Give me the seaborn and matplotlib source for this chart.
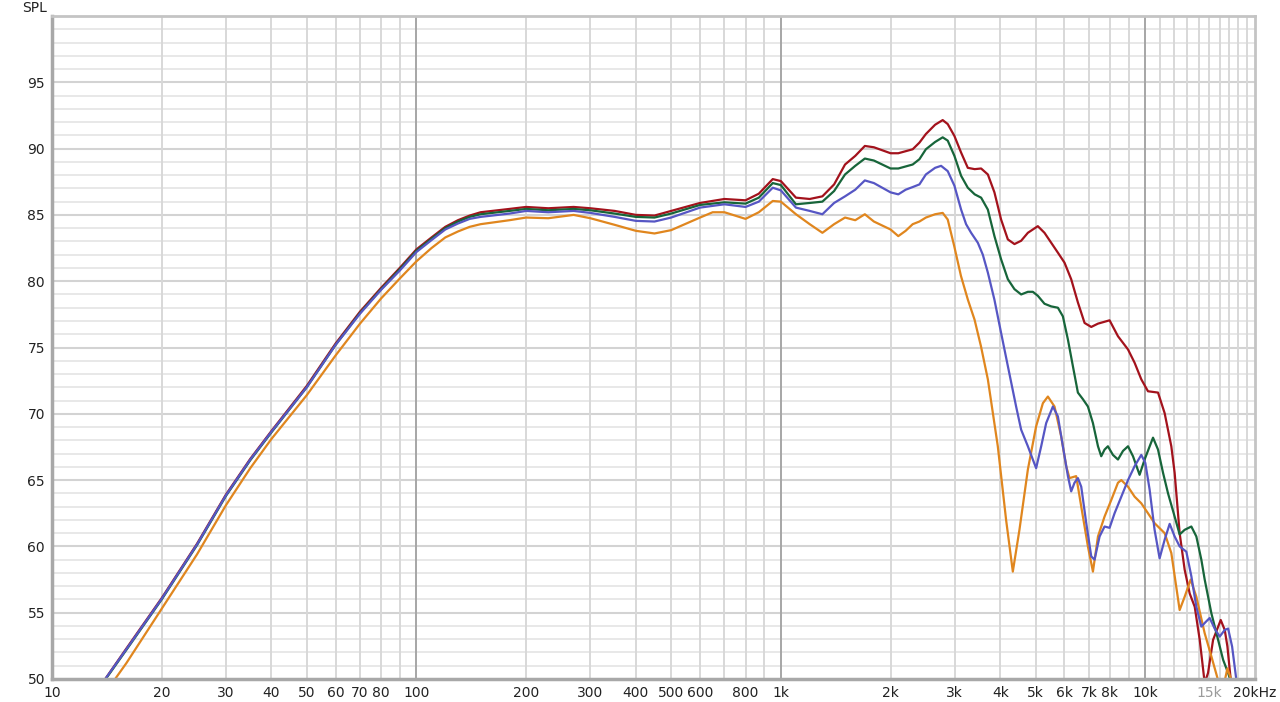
import numpy as np
import pandas as pd
import seaborn as sns
import matplotlib
matplotlib.use('Agg')
import matplotlib.pyplot as plt
from matplotlib.ticker import NullLocator

sns.set_style('white')
plt.rcParams['font.family'] = ['DejaVu Sans']

# Frequency response data (Hz, dB SPL)
red_freq = [14, 16, 20, 25, 30, 35, 40, 50, 60, 70, 80, 90, 100, 110, 120, 130, 140, 150, 180, 200, 230,
            270, 300, 350, 400, 450, 500, 600, 700, 800, 870, 950, 1000, 1100, 1200, 1300, 1400, 1500,
            1600, 1700, 1800, 2000, 2100, 2300, 2400, 2500, 2650, 2780, 2870, 2994, 3123, 3258, 3403,
            3544, 3698, 3855, 4021, 4196, 4375, 4564, 4762, 5071, 5289, 5518, 5757, 6002, 6261, 6532,
            6814, 7107, 7416, 7980, 8414, 8966, 9347, 9750, 10171, 10837, 11300, 11787, 12037, 12424,
            12823, 13237, 13665, 14105, 14554, 14864, 15346, 16105, 16519, 16801, 17047, 17306]
red_spl = [50.0, 52.3, 56.1, 60.2, 63.9, 66.6, 68.7, 72.1, 75.3, 77.7, 79.5, 81.0, 82.4, 83.3, 84.1,
           84.6, 84.95, 85.2, 85.45, 85.6, 85.5, 85.6, 85.5, 85.3, 85.0, 84.95, 85.3, 85.9, 86.2, 86.1,
           86.6, 87.7, 87.55, 86.3, 86.2, 86.4, 87.3, 88.8, 89.45, 90.2, 90.1, 89.65, 89.65, 89.95,
           90.45, 91.1, 91.8, 92.15, 91.85, 90.95, 89.7, 88.55, 88.45, 88.5, 88.05, 86.7, 84.65, 83.15,
           82.8, 83.05, 83.65, 84.15, 83.65, 82.9, 82.15, 81.4, 80.15, 78.4, 76.85, 76.55, 76.8, 77.05,
           75.85, 74.85, 73.85, 72.6, 71.7, 71.6, 70.05, 67.55, 65.55, 61.0, 58.25, 56.45, 55.45, 52.95,
           49.7, 50.45, 52.95, 54.45, 53.7, 52.45, 50.7, 49.0]

green_freq = [14, 16, 20, 25, 30, 35, 40, 50, 60, 70, 80, 90, 100, 110, 120, 130, 140, 150, 180, 200,
              230, 270, 300, 350, 400, 450, 500, 600, 700, 800, 870, 950, 1000, 1100, 1200, 1300, 1400,
              1500, 1600, 1700, 1800, 2000, 2100, 2300, 2400, 2500, 2650, 2780, 2870, 2994, 3123, 3258,
              3403, 3544, 3698, 3855, 4021, 4196, 4375, 4564, 4762, 4914, 5071, 5289, 5518, 5757, 5941,
              6133, 6328, 6532, 6743, 6959, 7183, 7416, 7570, 7731, 7896, 8151, 8414, 8685, 8966, 9252,
              9646, 9956, 10500, 10837, 11186, 11545, 12037, 12424, 12823, 13377, 13806, 14249, 14554,
              15184, 15842, 16350, 16877, 17233, 17500]
green_spl = [49.95, 52.2, 56.0, 60.1, 63.8, 66.5, 68.6, 72.0, 75.2, 77.6, 79.4, 80.9, 82.3, 83.2, 84.0,
             84.5, 84.85, 85.05, 85.3, 85.45, 85.35, 85.45, 85.35, 85.1, 84.85, 84.8, 85.1, 85.75, 85.95,
             85.85, 86.3, 87.4, 87.25, 85.8, 85.9, 86.0, 86.8, 88.05, 88.7, 89.25, 89.1, 88.5, 88.5, 88.8,
             89.2, 89.95, 90.5, 90.85, 90.6, 89.45, 87.95, 87.05, 86.55, 86.3, 85.4, 83.4, 81.65, 80.15,
             79.4, 79.0, 79.2, 79.2, 78.9, 78.3, 78.1, 78.0, 77.35, 75.6, 73.6, 71.6, 71.1, 70.55, 69.3,
             67.55, 66.8, 67.3, 67.55, 66.9, 66.55, 67.2, 67.55, 66.8, 65.4, 66.55, 68.2, 67.3, 65.55,
             64.0, 62.25, 60.9, 61.25, 61.5, 60.75, 59.0, 57.5, 54.95, 52.95, 51.45, 50.45, 49.7, 48.5]

blue_freq = [14, 16, 20, 25, 30, 35, 40, 50, 60, 70, 80, 90, 100, 110, 120, 130, 140, 150, 180, 200,
             230, 270, 300, 350, 400, 450, 500, 600, 700, 800, 870, 950, 1000, 1100, 1200, 1300, 1400,
             1500, 1600, 1700, 1800, 2000, 2100, 2200, 2300, 2400, 2500, 2650, 2752, 2870, 2994, 3123,
             3223, 3327, 3471, 3582, 3698, 3855, 4021, 4196, 4421, 4564, 4762, 4914, 5017, 5180, 5346,
             5578, 5757, 5941, 6133, 6261, 6394, 6532, 6672, 6887, 7107, 7257, 7492, 7731, 7980, 8236,
             8594, 8966, 9347, 9750, 10000, 10275, 10605, 10946, 11300, 11665, 12037, 12424, 12960,
             13377, 13806, 14249, 14645, 15020, 15501, 16000, 16519, 16877, 17306, 17783, 18000]
blue_spl = [50.0, 52.25, 56.05, 60.15, 63.85, 66.55, 68.65, 72.0, 75.2, 77.55, 79.35, 80.8, 82.2, 83.1,
            83.9, 84.35, 84.7, 84.85, 85.1, 85.3, 85.2, 85.3, 85.15, 84.85, 84.55, 84.5, 84.8, 85.55,
            85.8, 85.6, 86.0, 87.05, 86.85, 85.55, 85.3, 85.05, 85.9, 86.4, 86.9, 87.6, 87.4, 86.7,
            86.55, 86.9, 87.1, 87.3, 88.05, 88.55, 88.7, 88.3, 87.2, 85.4, 84.3, 83.65, 82.9, 82.0,
            80.65, 78.6, 76.1, 73.6, 70.55, 68.8, 67.55, 66.55, 65.9, 67.55, 69.3, 70.55, 69.8, 67.55,
            65.3, 64.15, 64.8, 65.15, 64.5, 61.75, 59.25, 59.0, 60.75, 61.5, 61.4, 62.5, 63.75, 65.0,
            66.05, 66.9, 66.3, 64.3, 61.25, 59.1, 60.5, 61.7, 60.75, 60.0, 59.6, 57.75, 55.45, 53.95,
            54.3, 54.6, 53.8, 53.2, 53.7, 53.8, 52.45, 49.9, 48.0]

orange_freq = [14.9, 16, 20, 25, 30, 35, 40, 50, 60, 70, 80, 90, 100, 110, 120, 130, 140, 150, 180, 200,
               230, 270, 300, 350, 400, 450, 500, 600, 650, 700, 800, 870, 950, 1000, 1100, 1200, 1300,
               1400, 1500, 1600, 1700, 1800, 2000, 2100, 2200, 2300, 2400, 2500, 2650, 2780, 2870, 2990,
               3120, 3260, 3400, 3540, 3698, 3938, 4150, 4330, 4515, 4762, 5017, 5236, 5404, 5635, 5877,
               6067, 6194, 6462, 6672, 6959, 7183, 7416, 7731, 8066, 8414, 8594, 8966, 9347, 9750, 10171,
               10605, 11300, 11787, 12424, 12823, 13320, 13806, 14554, 15184, 15842, 16350, 16801, 17233,
               17500]
orange_spl = [50.0, 51.2, 55.3, 59.4, 63.1, 65.9, 68.1, 71.4, 74.4, 76.8, 78.7, 80.2, 81.5, 82.5, 83.3,
              83.75, 84.1, 84.3, 84.6, 84.8, 84.75, 85.0, 84.75, 84.25, 83.8, 83.6, 83.85, 84.8, 85.2,
              85.2, 84.7, 85.2, 86.05, 86.0, 85.05, 84.3, 83.65, 84.3, 84.8, 84.6, 85.05, 84.5, 83.9,
              83.4, 83.8, 84.3, 84.5, 84.8, 85.05, 85.15, 84.65, 82.65, 80.4, 78.6, 77.1, 75.1, 72.6,
              67.55, 62.0, 58.1, 61.25, 65.8, 69.05, 70.8, 71.3, 70.55, 68.3, 66.05, 65.15, 65.3, 63.0,
              60.0, 58.1, 60.75, 62.25, 63.5, 64.8, 65.0, 64.5, 63.75, 63.25, 62.5, 61.75, 61.0, 59.5,
              55.2, 56.2, 57.5, 56.2, 53.45, 51.7, 49.9, 49.3, 50.8, 49.9, 48.5]

trace_colors = {'red': '#a3121c', 'green': '#17653a', 'orange': '#e0861e', 'blue': '#5656c4'}

# Axis ticks and labels
x_ticks = [10, 20, 30, 40, 50, 60, 70, 80, 100, 200, 300, 400, 500, 600, 800, 1000,
           2000, 3000, 4000, 5000, 6000, 7000, 8000, 10000, 15000, 20000]
x_labels = ['10', '20', '30', '40', '50', '60', '70', '80', '100', '200', '300', '400', '500', '600',
            '800', '1k', '2k', '3k', '4k', '5k', '6k', '7k', '8k', '10k', '15k', '20kHz']
y_ticks = [50, 55, 60, 65, 70, 75, 80, 85, 90, 95]

# Grid lines
grid_freqs = [20, 30, 40, 50, 60, 70, 80, 90, 200, 300, 400, 500, 600, 700, 800, 900,
              2000, 3000, 4000, 5000, 6000, 7000, 8000, 9000,
              11000, 12000, 13000, 14000, 15000, 16000, 17000, 18000, 19000]
decade_freqs = [100, 1000, 10000]

frames = []
for name, f, s in [('red', red_freq, red_spl), ('green', green_freq, green_spl),
                   ('orange', orange_freq, orange_spl), ('blue', blue_freq, blue_spl)]:
    frames.append(pd.DataFrame({'freq': f, 'spl': s, 'trace': name}))
df = pd.concat(frames, ignore_index=True)

fig = plt.figure(figsize=(12.8, 7.02), dpi=100)
ax = fig.add_axes([52 / 1280, 1 - 679 / 702, (1255 - 52) / 1280, (679 - 16) / 702])
ax.set_xscale('log')

for v in range(51, 100):
    if v % 5 == 0:
        ax.axhline(v, color='#d3d3d3', lw=1.5, zorder=0)
    else:
        ax.axhline(v, color='#e6e6e6', lw=1.3, zorder=0)
for f in grid_freqs:
    ax.axvline(f, color='#d8d8d8', lw=1.4, zorder=0)
for f in decade_freqs:
    ax.axvline(f, color='#a6a6a6', lw=1.4, zorder=0)

sns.lineplot(data=df, x='freq', y='spl', hue='trace', hue_order=['red', 'green', 'orange', 'blue'],
             palette=trace_colors, estimator=None, sort=False, lw=1.6, legend=False, ax=ax)

ax.set_xlim(10, 20000)
ax.set_ylim(50, 100)
ax.set_xticks(x_ticks, x_labels)
ax.xaxis.set_minor_locator(NullLocator())
ax.set_yticks(y_ticks)
ax.tick_params(axis='both', length=0, labelsize=10, colors='#222222')
ax.tick_params(axis='x', pad=5)
ax.tick_params(axis='y', pad=5)
ax.get_xticklabels()[-2].set_color('#9a9a9a')
ax.set_xlabel('')
ax.set_ylabel('')

for side in ['left', 'bottom']:
    ax.spines[side].set_color('#a8a8a8')
    ax.spines[side].set_linewidth(2.5)
for side in ['top', 'right']:
    ax.spines[side].set_color('#c4c4c4')
    ax.spines[side].set_linewidth(2.0)

fig.text(47 / 1280, 1 - 7.5 / 702, 'SPL', ha='right', va='center', fontsize=10, color='#222222')

fig.savefig('out.png', dpi=100, facecolor='white')
